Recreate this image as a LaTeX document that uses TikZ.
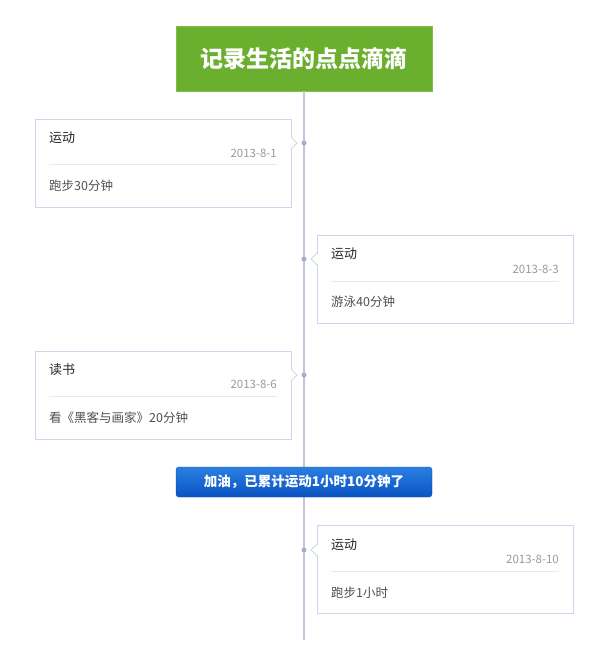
\documentclass[tikz,border=0pt]{standalone}
\usepackage{fontspec}
\setmainfont{Noto Sans CJK SC}
\usetikzlibrary{positioning}
\definecolor{leafgreen}{HTML}{6BAF2E}
\definecolor{axisline}{HTML}{C0C6DE}
\definecolor{axisdot}{HTML}{A5AED0}
\definecolor{cardline}{HTML}{D0D5EC}
\definecolor{rulegray}{HTML}{E7E9F0}
\definecolor{dategray}{HTML}{9A9A9A}
\definecolor{bodygray}{HTML}{505050}
\definecolor{btntop}{HTML}{2A7FE2}
\definecolor{btnbot}{HTML}{0A52C2}
\tikzset{
  card/.style={draw=cardline, line width=1pt, fill=white, minimum width=256pt, minimum height=88pt, inner sep=0pt},
  kind/.style={anchor=west, inner sep=0pt, font=\fontsize{13}{15}\selectfont, text=black!85},
  when/.style={anchor=east, inner sep=0pt, font=\fontsize{11.5}{13}\selectfont, text=dategray},
  what/.style={anchor=west, inner sep=0pt, font=\fontsize{12.5}{14}\selectfont, text=bodygray},
  dot/.style={circle, fill=axisdot, inner sep=0pt, minimum size=5pt}
}
\begin{document}
\begin{tikzpicture}[x=1pt,y=-1pt]
				\useasboundingbox (0,0) rectangle (600,659);
				
				% axis
				\coordinate (axisend) at (304,640);
				\node[fill=leafgreen, draw=leafgreen!85!white, minimum width=256pt, minimum height=65pt, inner sep=0pt] (head) at (304,58.5) {};
				\draw[axisline, line width=2.8pt] (head.south) -- (axisend);
				\node[text=white, font=\bfseries\fontsize{23}{26}\selectfont] (headtext) at (head.center) {记录生活的点点滴滴};
				
				% card 1, left
				\node[card] (card1) at (163,163) {};
				\filldraw[cardline, fill=white, line width=1pt] (291,137) -- (297,143) -- (291,149);
				\fill[white] (290.5,137.8) rectangle (291.5,148.2);
				\node[dot] (dot1) at (304,143) {};
				\node[kind] (kind1) at (49,138) {运动};
				\node[when] (when1) at (277,153) {2013-8-1};
				\draw[rulegray] (49,164) -- (277,164);
				\node[what] (what1) at (49,186) {跑步30分钟};
				
				% card 2, right
				\node[card] (card2) at (445,279) {};
				\filldraw[cardline, fill=white, line width=1pt] (317,253) -- (311,259) -- (317,265);
				\fill[white] (316.5,253.8) rectangle (317.5,264.2);
				\node[dot] (dot2) at (304,259) {};
				\node[kind] (kind2) at (331,254) {运动};
				\node[when] (when2) at (559,269) {2013-8-3};
				\draw[rulegray] (331,281) -- (559,281);
				\node[what] (what2) at (331,302) {游泳40分钟};
				
				% card 3, left
				\node[card] (card3) at (163,395) {};
				\filldraw[cardline, fill=white, line width=1pt] (291,369) -- (297,375) -- (291,381);
				\fill[white] (290.5,369.8) rectangle (291.5,380.2);
				\node[dot] (dot3) at (304,375) {};
				\node[kind] (kind3) at (49,370) {读书};
				\node[when] (when3) at (277,384) {2013-8-6};
				\draw[rulegray] (49,396) -- (277,396);
				\node[what] (what3) at (49,418) {看《黑客与画家》20分钟};
				
				% total
				\node[rounded corners=3pt, draw=btnbot!85!black, top color=btntop, bottom color=btnbot, minimum width=256pt, minimum height=30pt, inner sep=0pt, text=white, font=\bfseries\fontsize{13.5}{15}\selectfont] (total) at (304,482) {加油，已累计运动1小时10分钟了};
				
				% card 4, right
				\node[card] (card4) at (445,569.5) {};
				\filldraw[cardline, fill=white, line width=1pt] (317,544) -- (311,550) -- (317,556);
				\fill[white] (316.5,544.8) rectangle (317.5,555.2);
				\node[dot] (dot4) at (304,550) {};
				\node[kind] (kind4) at (331,545) {运动};
				\node[when] (when4) at (559,559) {2013-8-10};
				\draw[rulegray] (331,571) -- (559,571);
				\node[what] (what4) at (331,593) {跑步1小时};
\end{tikzpicture}
\end{document}
